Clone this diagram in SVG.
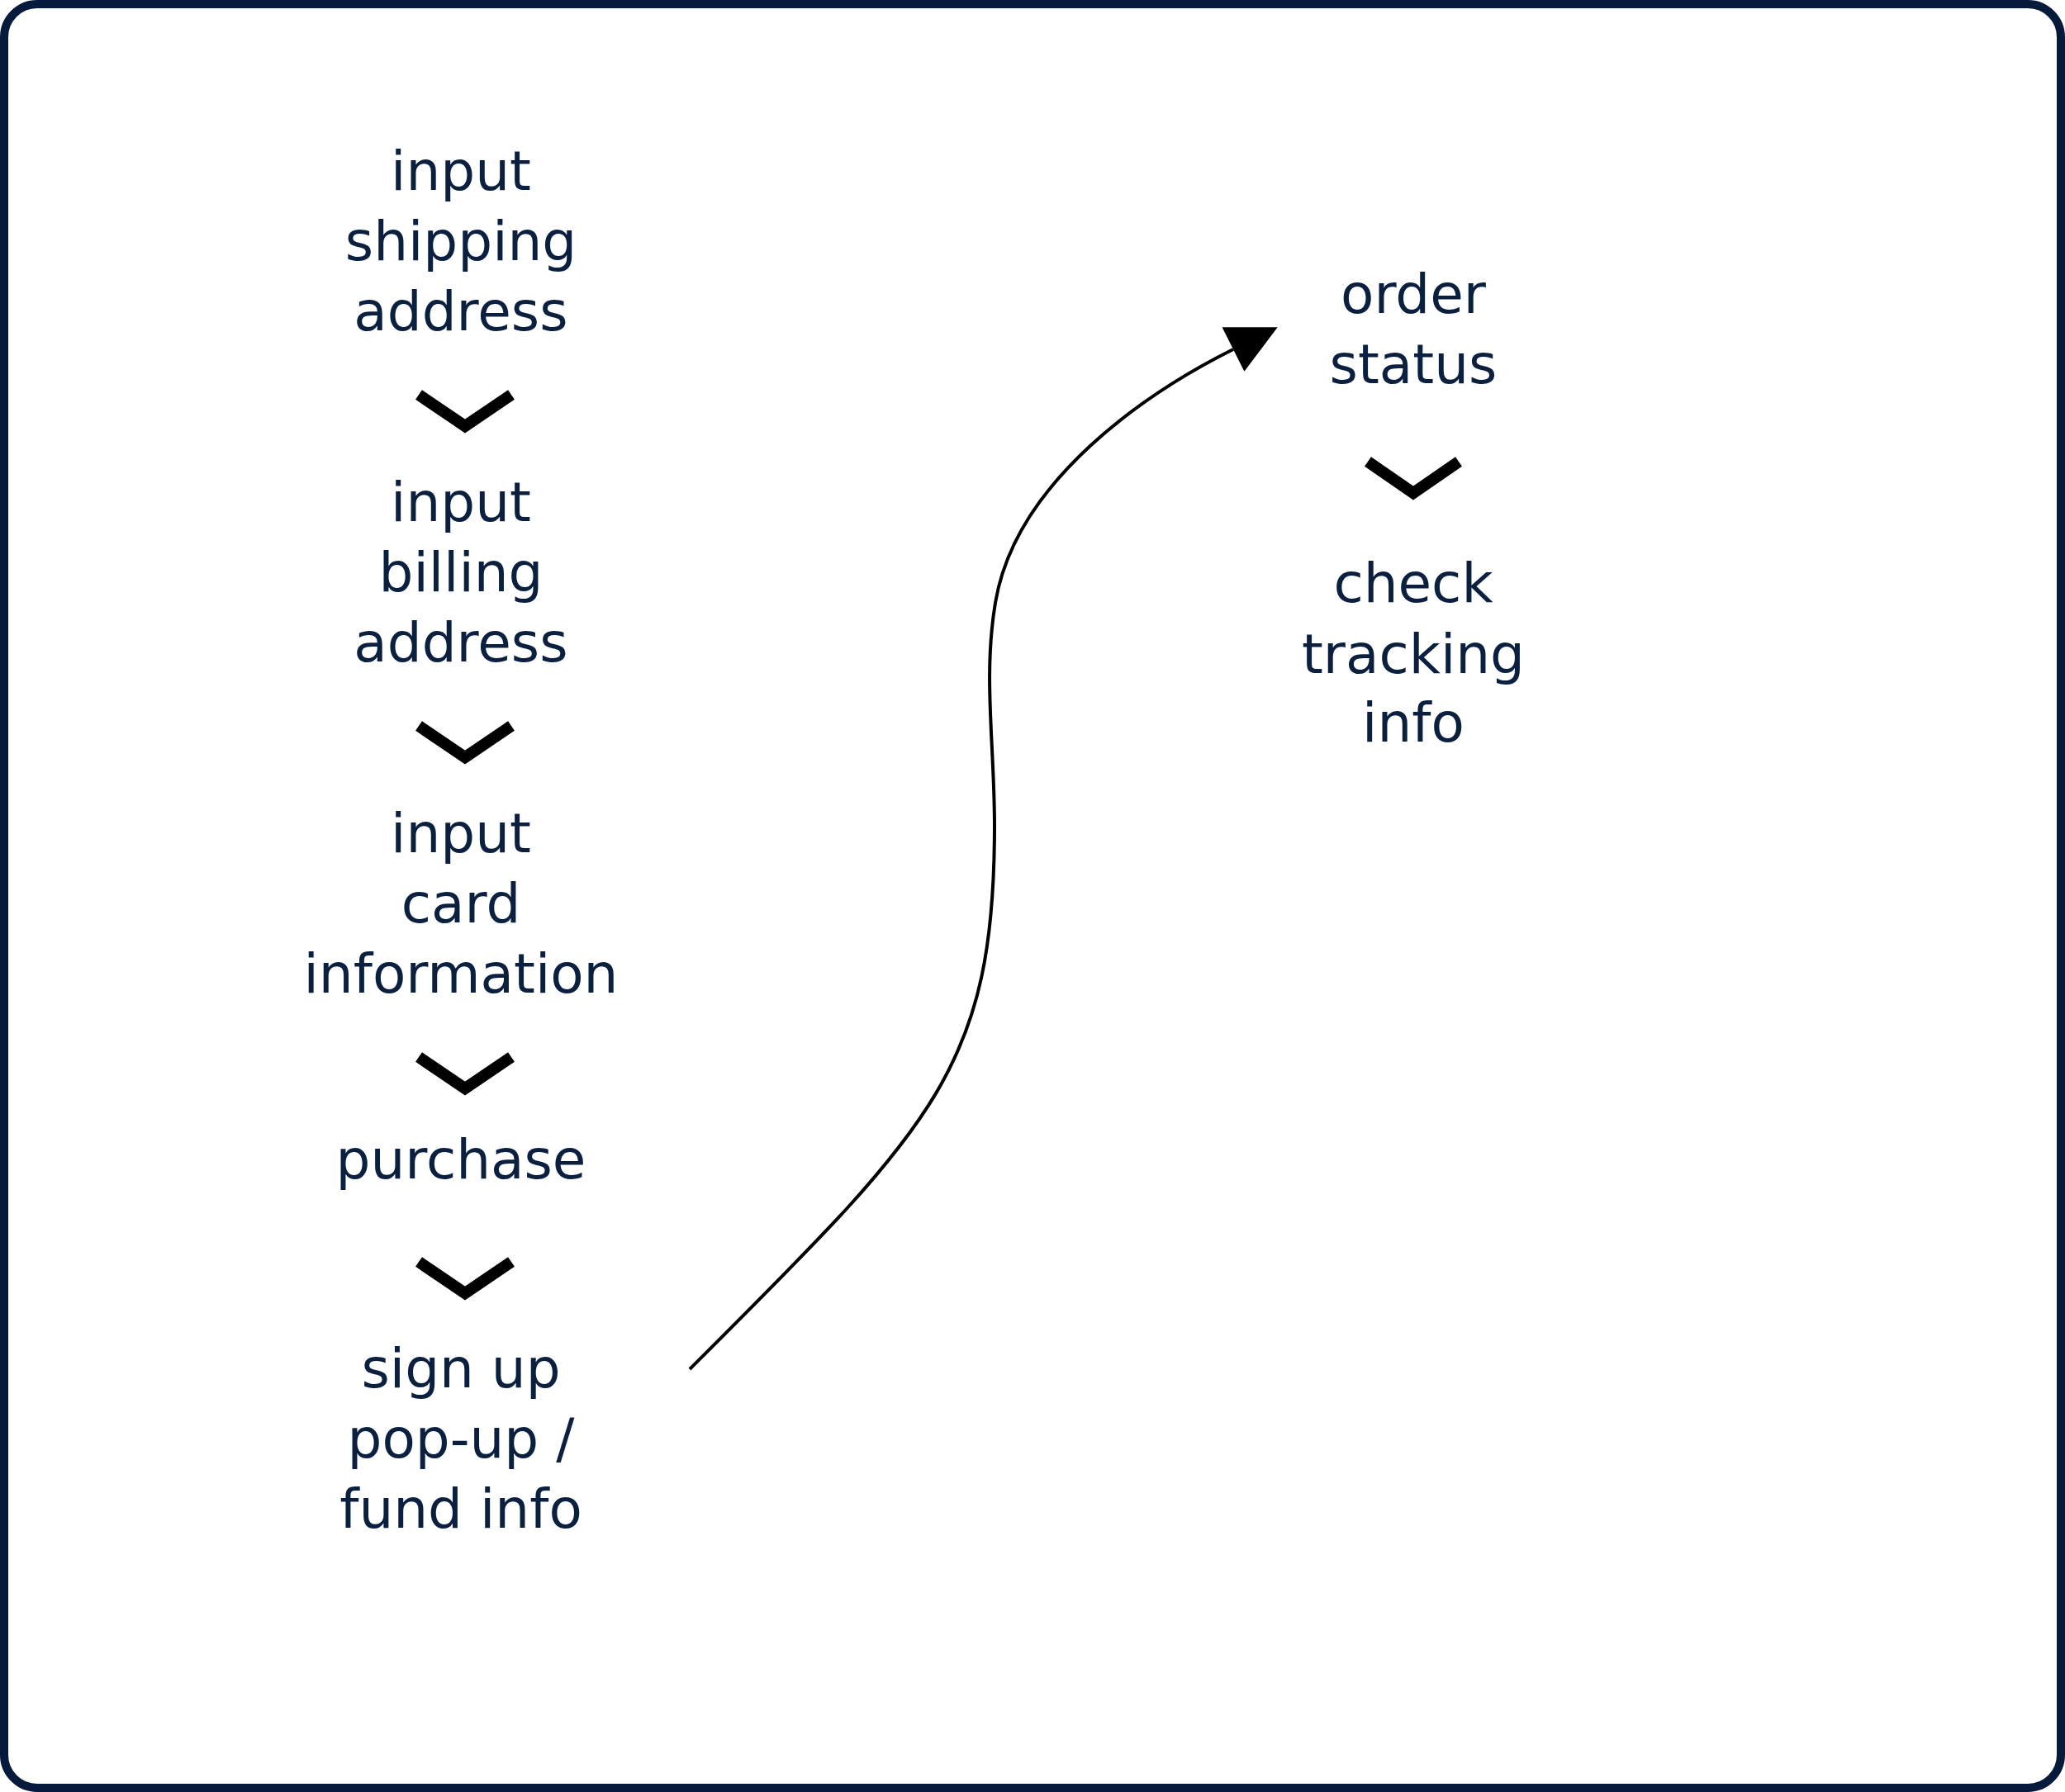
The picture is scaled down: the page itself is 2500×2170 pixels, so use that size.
<svg xmlns="http://www.w3.org/2000/svg" width="2500" height="2170" viewBox="0 0 2500 2170">
<style>
.t{font-family:"DejaVu Sans","Open Sans",sans-serif;font-size:66px;fill:#0b1f3f;text-anchor:middle}
.chev{fill:none;stroke:#000;stroke-width:14;stroke-linejoin:miter}
.conn{fill:none;stroke:#000;stroke-width:4}
</style>
<defs>
<marker id="ah" markerUnits="userSpaceOnUse" viewBox="-2 -32 64 64" markerWidth="64" markerHeight="64" refX="0" refY="0" orient="auto">
<path d="M0,-30 L60,0 L0,30 Z" fill="#000"/>
</marker>
</defs>
<rect x="5" y="5" width="2490" height="2160" rx="40" ry="40" fill="#fff" stroke="#061b3b" stroke-width="10"/>
<g id="n1"><text class="t" x="558" y="230">input</text><text class="t" x="558" y="315">shipping</text><text class="t" x="558" y="400">address</text></g>
<g id="n2"><text class="t" x="558" y="631">input</text><text class="t" x="558" y="716">billing</text><text class="t" x="558" y="801">address</text></g>
<g id="n3"><text class="t" x="558" y="1032">input</text><text class="t" x="558" y="1117">card</text><text class="t" x="558" y="1202">information</text></g>
<g id="n4"><text class="t" x="558" y="1427">purchase</text></g>
<g id="n5"><text class="t" x="558" y="1680">sign up</text><text class="t" x="558" y="1765">pop-up /</text><text class="t" x="558" y="1850">fund info</text></g>
<g id="n6"><text class="t" x="1711" y="379">order</text><text class="t" x="1711" y="464">status</text></g>
<g id="n7"><text class="t" x="1711" y="729">check</text><text class="t" x="1711" y="815">tracking</text><text class="t" x="1711" y="898">info</text></g>
<g id="connectors">
<polyline class="chev" points="507,478 563,516 619,478"/>
<polyline class="chev" points="507,879 563,917 619,879"/>
<polyline class="chev" points="507,1280 563,1318 619,1280"/>
<polyline class="chev" points="507,1528 563,1566 619,1528"/>
<polyline class="chev" points="1656,559 1711,597 1766,559"/>
<path class="conn" marker-end="url(#ah)" d="M835,1658 C1128,1365 1204,1296 1204,1000 C1204,900 1190,820 1205,730 C1230,580 1393,473 1493,423"/>
</g>
</svg>
